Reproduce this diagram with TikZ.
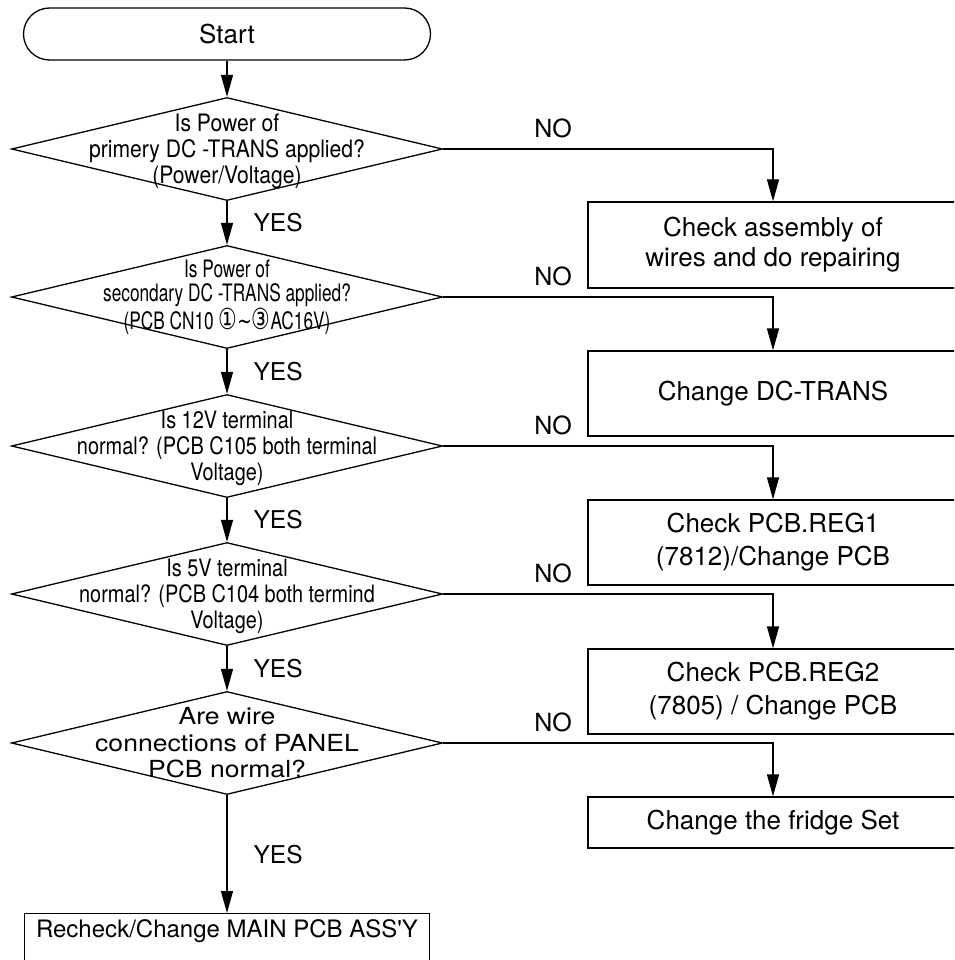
\documentclass[tikz,border=0pt]{standalone}
\usepackage{fontspec}
\setmainfont{TeX Gyre Heros}
\newfontfamily\hvq{TeX Gyre Heros}
\newfontfamily\dejavu{DejaVu Sans}
\usetikzlibrary{arrows.meta,shapes.geometric,calc}
\begin{document}
\begin{tikzpicture}[x=1pt,y=-1pt,line width=1.3pt,
  arr/.style={-{Triangle[length=22pt,width=12pt]}},
  dia/.style={draw,diamond,minimum width=431pt,minimum height=103pt,inner sep=0pt},
  dtext/.style={align=center,inner sep=0pt,transform shape,font=\fontsize{24}{26}\selectfont},
  box/.style={draw,rectangle,minimum width=370pt,align=center,inner sep=0pt,font=\fontsize{26}{32}\selectfont},
  term/.style={draw,rectangle,rounded corners=26pt,minimum width=407pt,minimum height=52pt,inner sep=0pt,font=\fontsize{26}{30}\selectfont},
  nolab/.style={inner sep=0pt,font=\fontsize{25}{25}\selectfont},
  yeslab/.style={inner sep=0pt,anchor=west,xshift=26pt,font=\fontsize{24.5}{25}\selectfont}]
\useasboundingbox (0,0) rectangle (954,960);
\clip (0,0) rectangle (954,960);
% left column
\node[term] (start) at (227,34) {Start};
\node[dia] (d1) at (227,149) {};
\node[dia] (d2) at (227,297) {};
\node[dia] (d3) at (227,446) {};
\node[dia] (d4) at (227,594) {};
\node[dia] (d5) at (227,743) {};
\node[draw,minimum width=405pt,inner xsep=0pt,inner ysep=0pt,text height=24pt,text depth=28pt,anchor=north,font=\fontsize{24}{24}\selectfont] (fin) at (227,913) {Recheck/Change MAIN PCB ASS{\hvq'}Y};
% diamond texts
\node[dtext,xscale=0.88] (t1) at ($(d1)+(0,2)$) {Is Power of\\primery DC -TRANS applied?\\(Power/Voltage)};
\node[dtext,xscale=0.72,font=\fontsize{24}{24.5}\selectfont] (t2) at (d2) {Is Power of\\secondary DC -TRANS applied?\\(PCB CN10 {\dejavu\fontsize{29}{24}\selectfont ①}{\dejavu ∼}{\dejavu\fontsize{29}{24}\selectfont ③}AC16V)};
\node[dtext,xscale=0.83] (t3) at ($(d3)+(0,2)$) {Is 12V terminal\\normal? (PCB C105 both terminal\\Voltage)};
\node[dtext,xscale=0.83] (t4) at ($(d4)+(0,2)$) {Is 5V terminal\\normal? (PCB C104 both termind\\Voltage)};
\node[dtext,xscale=1.13,font=\fontsize{23.5}{26.5}\selectfont] (t5) at (d5) {Are wire\\connections of PANEL\\PCB normal?};
% right column
\node[box,minimum height=86pt,font=\fontsize{26}{30}\selectfont] (b1) at (773,245) {Check assembly of\\wires and do repairing};
\node[box,minimum height=85pt] (b2) at (773,393.5) {Change DC-TRANS};
\node[box,minimum height=85pt,font=\fontsize{26}{33}\selectfont] (b3) at (773,542.5) {Check PCB.REG1\\(7812)/Change PCB};
\node[box,minimum height=85pt,font=\fontsize{26}{33}\selectfont] (b4) at (773,691.5) {Check PCB.REG2\\(7805) / Change PCB};
\node[box,minimum height=51pt] (b5) at (773,822.5) {Change the fridge Set};
% vertical connectors
\draw[arr] (start) -- (d1);
\draw[arr] (d1) -- node[yeslab,midway]{YES} (d2);
\draw[arr] (d2) -- node[yeslab,midway]{YES} (d3);
\draw[arr] (d3) -- node[yeslab,midway]{YES} (d4);
\draw[arr] (d4) -- node[yeslab,midway]{YES} (d5);
\draw[arr] (d5) -- node[yeslab,midway]{YES} (fin);
% NO connectors
\draw[arr] (d1.east) -| (b1.north);
\draw[arr] (d2.east) -| (b2.north);
\draw[arr] (d3.east) -| (b3.north);
\draw[arr] (d4.east) -| (b4.north);
\draw[arr] (d5.east) -| (b5.north);
\node[nolab] (n1) at ($(d1.east)+(110,-21)$) {NO};
\node[nolab] (n2) at ($(d2.east)+(110,-21)$) {NO};
\node[nolab] (n3) at ($(d3.east)+(110,-21)$) {NO};
\node[nolab] (n4) at ($(d4.east)+(110,-21)$) {NO};
\node[nolab] (n5) at ($(d5.east)+(110,-21)$) {NO};
\end{tikzpicture}
\end{document}
